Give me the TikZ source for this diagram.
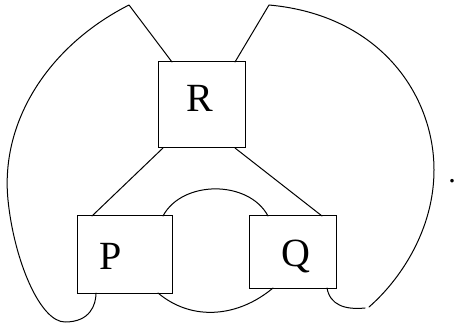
\documentclass[tikz,border=0pt]{standalone}
\usepackage{fontspec}
\setmainfont{Liberation Serif}
\begin{document}
\begin{tikzpicture}[x=1pt,y=-1pt, line width=1pt,
  box/.style={draw, rectangle, inner sep=0pt, outer sep=0pt},
  lbl/.style={anchor=base, inner sep=0pt, font=\fontsize{40}{48}\selectfont},
  wire/.style={line join=round, line cap=round}]
\useasboundingbox (0,0) rectangle (455,323);
% boxes
\node[box, minimum width=87pt, minimum height=86pt] (R) at (201.5,105) {};
\node[box, minimum width=95pt, minimum height=77pt] (P) at (124.5,254.5) {};
\node[box, minimum width=87pt, minimum height=72pt] (Q) at (292.5,252) {};
% labels
\node[lbl] (Rl) at (200,112) {R};
\node[lbl] (Pl) at (111,269) {P};
\node[lbl] (Ql) at (296,266.5) {Q};
\node[lbl, font=\fontsize{30}{36}\selectfont] (dot) at (452,183) {.};
% free ends
\coordinate (tl) at (129,5);
\coordinate (tr) at (269,5);
\coordinate (g1) at (365,308);
\coordinate (g2) at (369,307);
% straight connectors
\draw[wire] ([xshift=5pt]R.south west) -- ([xshift=15pt]P.north west);
\draw[wire] ([xshift=-10pt]R.south east) -- ([xshift=-14pt]Q.north east);
% middle loop
\draw[wire] ([xshift=-9pt]P.north east) to[out=62,in=118] ([xshift=19pt]Q.north west);
\draw[wire] ([xshift=-14pt]P.south east) to[out=-40,in=-140] ([xshift=24pt]Q.south west);
% left outer wire
\draw[wire] ([xshift=14pt]R.north west) -- (tl)
  .. controls (50,45) and (0,120) .. (8,200)
  .. controls (14,260) and (40,322) .. (65,322)
  .. controls (90,322) and (96,305) .. ([xshift=19pt]P.south west);
% right outer wire
\draw[wire] ([xshift=-10pt]R.north east) -- (tr)
  .. controls (380,15) and (434,95) .. (434,170)
  .. controls (434,230) and (400,280) .. (g2);
\draw[wire] ([xshift=-9pt]Q.south east) .. controls (330,305) and (345,310) .. (g1);
\end{tikzpicture}
\end{document}
